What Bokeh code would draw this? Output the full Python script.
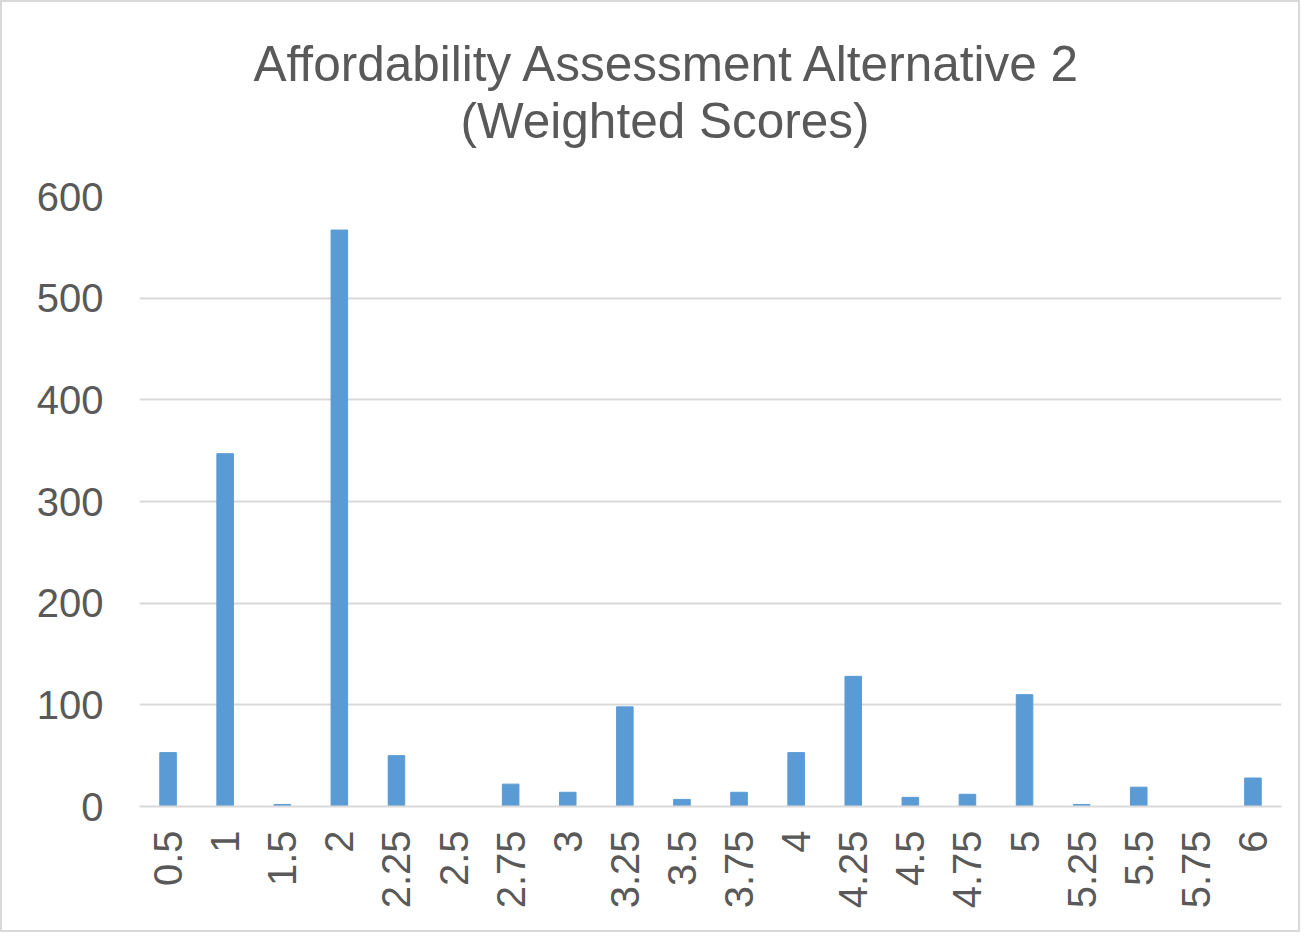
import math
from bokeh.plotting import figure
from bokeh.models import Title, FixedTicker, ColumnDataSource
from bokeh.embed import file_html
from bokeh.resources import INLINE

categories = ["0.5", "1", "1.5", "2", "2.25", "2.5", "2.75", "3", "3.25", "3.5",
              "3.75", "4", "4.25", "4.5", "4.75", "5", "5.25", "5.5", "5.75", "6"]
counts = [53, 347, 2, 567, 50, 0, 22, 14, 98, 7,
          14, 53, 128, 9, 12, 110, 2, 19, 0, 28]
y_ticks = [0, 100, 200, 300, 400, 500, 600]
title_main = "Affordability Assessment Alternative 2"
title_sub = "(Weighted Scores)"

FONT = "Liberation Sans"
TXT = "#595959"
GRID = "#d9d9d9"

source = ColumnDataSource(dict(cat=categories, val=counts))

p = figure(x_range=categories, y_range=(0, 600), width=1300, height=932,
           output_backend="svg", toolbar_location=None, tools="",
           min_border_left=137, min_border_right=21, min_border_bottom=128,
           min_border_top=194)
p.title = None
# spacer between frame and subtitle
p.add_layout(Title(text=" ", text_font=FONT, text_font_size="10px",
                   text_color="white", standoff=36), "above")
p.add_layout(Title(text=title_sub, align="left", text_font=FONT,
                   text_font_size="49.5px", text_font_style="normal",
                   offset=321, text_color=TXT, standoff=0), "above")
p.add_layout(Title(text=title_main, align="left", text_font=FONT,
                   text_font_size="49.5px", text_font_style="normal",
                   offset=114, text_color=TXT, standoff=0), "above")

p.vbar(x="cat", top="val", width=0.29, source=source,
       fill_color="#5b9bd5", line_color="#5b9bd5")

p.outline_line_color = None
p.xgrid.grid_line_color = None
p.ygrid.grid_line_color = GRID
p.ygrid.grid_line_width = 2
p.yaxis.ticker = FixedTicker(ticks=y_ticks)
p.yaxis.axis_line_color = None
p.yaxis.major_tick_line_color = None
p.yaxis.minor_tick_line_color = None
p.yaxis.major_label_text_font = FONT
p.yaxis.major_label_text_font_size = "40px"
p.yaxis.major_label_text_color = TXT
p.yaxis.major_label_standoff = 30

p.xaxis.axis_line_color = GRID
p.xaxis.axis_line_width = 2
p.xaxis.major_tick_line_color = None
p.xaxis.minor_tick_line_color = None
p.xaxis.major_label_orientation = math.pi / 2
p.xaxis.major_label_text_font = FONT
p.xaxis.major_label_text_font_size = "40px"
p.xaxis.major_label_text_color = TXT
p.xaxis.major_label_standoff = 18
p.x_range.range_padding = 0

p.styles = {"border": "2px solid #d9d9d9"}

open("out.html", "w").write(file_html(p, INLINE))
